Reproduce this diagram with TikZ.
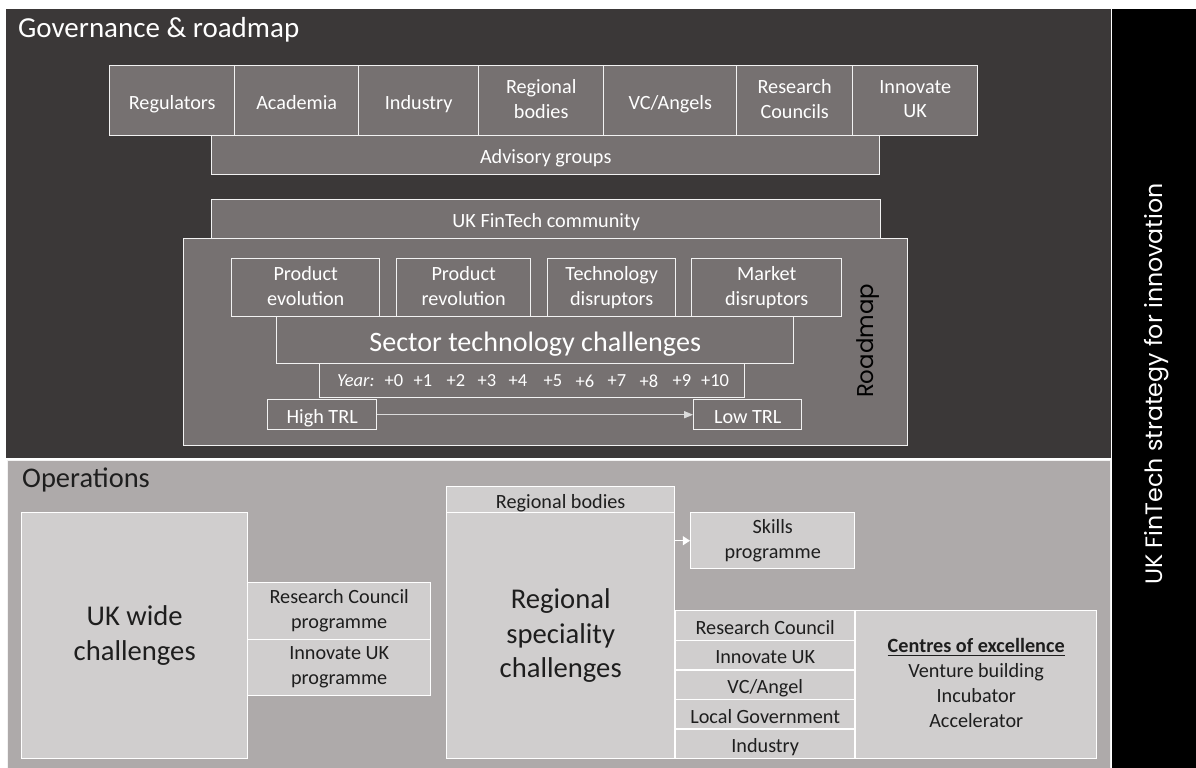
\documentclass[tikz,border=0pt]{standalone}
\usepackage{fontspec}
\setmainfont{Carlito}
\newfontfamily\geofont{Poppins}
\usetikzlibrary{arrows.meta}

\definecolor{govbg}{HTML}{3B3838}
\definecolor{govfill}{HTML}{767171}
\definecolor{opsbg}{HTML}{AEAAAA}
\definecolor{opsfill}{HTML}{D0CECE}
\definecolor{edgeline}{HTML}{F2F2F2}
\definecolor{opstext}{HTML}{1E1E1E}

\newcommand{\boxstrut}{\rule[-0.15\baselineskip]{0pt}{\baselineskip}}

\tikzset{
  dims/.style 2 args={minimum width=#1*0.02cm, minimum height=#2*0.02cm},
  struts/.style={execute at begin node={\boxstrut}, execute at end node={\boxstrut}},
  gbox/.style={draw=edgeline, fill=govfill, text=white, line width=0.8pt, inner sep=0pt,
    align=center, anchor=north west, struts, font=\fontsize{11.5}{13.8}\selectfont},
  obox/.style={draw=white, fill=opsfill, text=opstext, line width=0.8pt, inner sep=0pt,
    align=center, anchor=north west, struts, font=\fontsize{11.5}{14.2}\selectfont},
  bigtxt/.style={font=\fontsize{16.3}{19.8}\selectfont},
}

\begin{document}
\begin{tikzpicture}[x=0.02cm, y=-0.02cm]
\useasboundingbox (0,0) rectangle (1196,767);

% panels
\node[fill=govbg, inner sep=0pt, anchor=north west, dims={1105}{449}] (gov) at (6,9) {};
\node[fill=opsbg, draw=edgeline, line width=0.6pt, inner sep=0pt, anchor=north west, dims={1103}{312}] (ops) at (7,460) {};
\node[fill=black, inner sep=0pt, anchor=north west, dims={84}{760}] (strip) at (1112,9) {};

\node[anchor=west, text=white, font=\fontsize{16.5}{20}\selectfont] (govtitle) at (12,30) {Governance \& roadmap};
\node[anchor=west, text=opstext, font=\fontsize{16.2}{20}\selectfont] (opstitle) at (16,480) {Operations};

% governance
\node[gbox, dims={668}{39}] (adv) at (211,135) {Advisory groups};
\node[gbox, dims={125}{70}] (reg) at (109,65) {Regulators};
\node[gbox, dims={124}{70}] (aca) at (234,65) {Academia};
\node[gbox, dims={120}{70}] (ind) at (358,65) {Industry};
\node[gbox, dims={125}{70}] (rbod) at (478,65) {Regional\\bodies};
\node[gbox, dims={133}{70}] (vc) at (603,65) {VC/Angels};
\node[gbox, dims={116}{70}] (rc) at (736,65) {Research\\Councils};
\node[gbox, dims={125}{70}] (iuk) at (852,65) {Innovate\\UK};

\node[gbox, dims={669}{39}] (comm) at (211,199) {UK FinTech community};
\node[gbox, dims={724}{207}] (rmap) at (183,238) {};
\node[rotate=90, text=black, font=\geofont\fontsize{13}{15}\selectfont] (rmlabel) at (868,341) {Roadmap};

\node[gbox, dims={148}{58}] (pevo) at (231,258) {Product\\evolution};
\node[gbox, dims={134}{58}] (prev) at (396,258) {Product\\revolution};
\node[gbox, dims={128}{58}] (tech) at (547,258) {Technology\\disruptors};
\node[gbox, dims={150}{58}] (mkt) at (691,258) {Market\\disruptors};
\node[gbox, dims={517}{47}, font=\fontsize{16}{19}\selectfont] (sector) at (276,316) {Sector technology challenges};
\node[gbox, dims={425}{34}] (year) at (319,363) {};

\node[anchor=west, text=white, font=\fontsize{10.5}{12}\selectfont\itshape] (yrlabel) at (331,381) {Year:};
\node[text=white, font=\fontsize{10.5}{12}\selectfont] (yr0) at (394,381) {+0};
\node[text=white, font=\fontsize{10.5}{12}\selectfont] (yr1) at (423,381) {+1};
\node[text=white, font=\fontsize{10.5}{12}\selectfont] (yr2) at (456,381) {+2};
\node[text=white, font=\fontsize{10.5}{12}\selectfont] (yr3) at (487,381) {+3};
\node[text=white, font=\fontsize{10.5}{12}\selectfont] (yr4) at (518,381) {+4};
\node[text=white, font=\fontsize{10.5}{12}\selectfont] (yr5) at (553,381) {+5};
\node[text=white, font=\fontsize{10.5}{12}\selectfont] (yr6) at (585,381) {+6};
\node[text=white, font=\fontsize{10.5}{12}\selectfont] (yr7) at (617,381) {+7};
\node[text=white, font=\fontsize{10.5}{12}\selectfont] (yr8) at (649,381) {+8};
\node[text=white, font=\fontsize{10.5}{12}\selectfont] (yr9) at (682,381) {+9};
\node[text=white, font=\fontsize{10.5}{12}\selectfont] (yr10) at (715,381) {+10};

\node[gbox, dims={109}{30}] (hitrl) at (267,399) {High TRL};
\node[gbox, dims={108}{30}] (lotrl) at (693,399) {Low TRL};
\draw[-{Triangle[length=5pt, width=4pt]}, draw=edgeline!80!gray, fill=white, line width=0.5pt] (hitrl) -- (lotrl);

% operations
\node[obox, dims={226}{246}, bigtxt] (ukw) at (21,512) {UK wide\\challenges};
\node[obox, dims={183}{57}] (rcp) at (247,582) {Research Council\\programme};
\node[obox, dims={183}{56}] (iukp) at (247,639) {Innovate UK\\programme};

\node[obox, dims={228}{246}, bigtxt] (rsc) at (446,512) {Regional\\speciality\\challenges};
\node[obox, dims={228}{26}] (rbod2) at (446,486) {Regional bodies};
\node[obox, dims={164}{56}] (skills) at (690,512) {Skills\\programme};
\draw[-{Triangle[length=4pt, width=5pt]}, white, line width=0.8pt] (rsc.east |- skills.west) -- (skills.west);

\node[obox, dims={179}{29.6}] (src) at (675,610) {Research Council};
\node[obox, dims={179}{29.6}] (siuk) at (675,639.6) {Innovate UK};
\node[obox, dims={179}{29.6}] (svc) at (675,669.2) {VC/Angel};
\node[obox, dims={179}{29.6}] (slg) at (675,698.8) {Local Government};
\node[obox, dims={179}{29.6}] (sind) at (675,728.4) {Industry};
\node[obox, dims={241}{148}] (coe) at (855,610) {\underline{\textbf{Centres of excellence}}\\Venture building\\Incubator\\Accelerator};

\node[rotate=90, text=white, font=\geofont\fontsize{13.5}{16}\selectfont] (stratlabel) at (1157,384) {UK FinTech strategy for innovation};
\end{tikzpicture}
\end{document}
